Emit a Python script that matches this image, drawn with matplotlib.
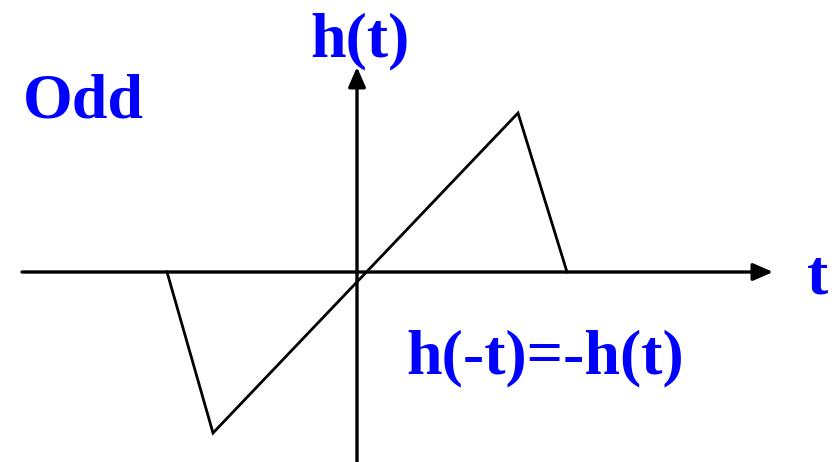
import matplotlib.pyplot as plt

# piecewise-linear odd function (t in arbitrary units, origin at axes crossing)
t_vals = [-1.90, -1.44, 1.61, 2.10]
h_vals = [0.0, -1.61, 1.59, 0.0]

# axis extents
x_axis = (-3.35, 4.16)
y_axis = (-1.92, 2.05)

blue = "#0000FF"
font = dict(family="Liberation Serif", weight="bold", color=blue, fontsize=46)

fig = plt.figure(figsize=(8.37, 4.62), dpi=100)
ax = fig.add_axes([0, 0, 1, 1])
ax.set_xlim(-3.57, 4.80)
ax.set_ylim(-1.90, 2.72)
ax.axis("off")

arrow = dict(arrowstyle="-|>,head_length=0.8,head_width=0.35", mutation_scale=15,
             lw=2.4, color="black", shrinkA=0, shrinkB=0)
# t axis
ax.annotate("", xy=(x_axis[1], 0), xytext=(x_axis[0], 0), arrowprops=arrow)
# h axis
ax.annotate("", xy=(0, y_axis[1]), xytext=(0, y_axis[0]), arrowprops=arrow)

# the signal
ax.plot(t_vals, h_vals, color="black", lw=2.0, solid_joinstyle="miter")

# labels
ax.text(0.03, 2.16, "h(t)", ha="center", va="baseline", **font)
ax.text(-3.34, 1.54, "Odd", ha="left", va="baseline", **font)
ax.text(4.61, -0.21, "t", ha="center", va="baseline", **font)
ax.text(0.49, -1.01, "h(-t)=-h(t)", ha="left", va="baseline", **font)

plt.savefig("out.png", dpi=100)
